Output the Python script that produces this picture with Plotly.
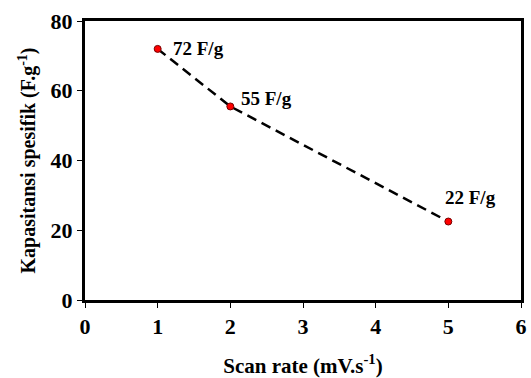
import plotly.graph_objects as go

scan_rate = [1, 2, 5]
capacitance = [72, 55.5, 22.5]
labels = ["72 F/g", "55 F/g", "22 F/g"]
x_ticks = [0, 1, 2, 3, 4, 5, 6]
y_ticks = [0, 20, 40, 60, 80]

font_family = "Liberation Serif, Times New Roman, serif"

fig = go.Figure()
fig.add_trace(go.Scatter(
    x=scan_rate, y=capacitance, mode="lines+markers",
    line=dict(color="black", width=2.5, dash="10px,6px"),
    marker=dict(color="red", size=7, line=dict(color="#700", width=1)),
    showlegend=False,
))

# (xanchor, xshift, yshift) per label
placements = [("left", 13, 0), ("left", 9, 8), ("center", 22, 24)]
for xv, yv, t, (anc, dx, dy) in zip(scan_rate, capacitance, labels, placements):
    fig.add_annotation(x=xv, y=yv, text="<b>%s</b>" % t, showarrow=False,
                       xanchor=anc, yanchor="middle", xshift=dx, yshift=dy,
                       font=dict(family=font_family, size=19, color="black"))

fig.update_layout(
    width=531, height=378,
    margin=dict(l=85, r=4, t=21, b=76),
    plot_bgcolor="white", paper_bgcolor="white",
    font=dict(family=font_family, color="black"),
)
fig.update_xaxes(
    range=[0, 6], tickvals=x_ticks, ticktext=["<b>%d</b>" % v for v in x_ticks],
    showline=True, linecolor="black", linewidth=3, mirror=True,
    ticks="outside", ticklen=5, tickcolor="black", tickwidth=1,
    showgrid=False, zeroline=False,
    tickfont=dict(size=22, family=font_family),
    title=dict(text="<b>Scan rate (mV.s<sup>-1</sup>)</b>", font=dict(size=21, family=font_family), standoff=20),
)
fig.update_yaxes(
    range=[0, 80], tickvals=y_ticks, ticktext=["<b>%d</b>" % v for v in y_ticks],
    showline=True, linecolor="black", linewidth=3, mirror=True,
    ticks="outside", ticklen=5, tickcolor="black", tickwidth=1,
    showgrid=False, zeroline=False,
    tickfont=dict(size=22, family=font_family),
    title=dict(text="<b>Kapasitansi spesifik (F.g<sup>-1</sup>)</b>", font=dict(size=20, family=font_family), standoff=10),
)

fig.write_html("out.html")
